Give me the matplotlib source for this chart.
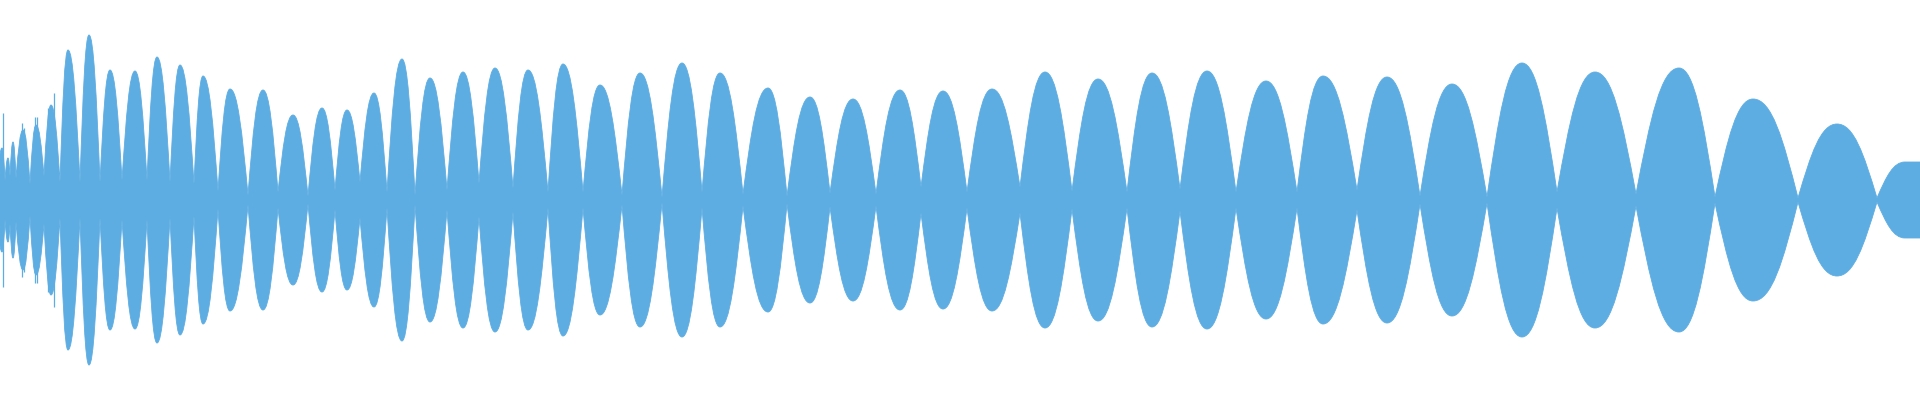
import matplotlib
matplotlib.use("Agg")
import matplotlib.pyplot as plt
from matplotlib.path import Path
from matplotlib.patches import PathPatch

# Envelope of the waveform: times of the envelope minima (nulls) and their half-amplitude
null_t = [0, 5, 10, 16, 30, 44, 60, 80, 100, 122, 147, 170, 194, 218, 248, 278, 308,
          335, 360, 387, 415, 447, 479, 513, 548, 583, 622, 662, 702, 743, 787, 830,
          876, 921, 967, 1020, 1072, 1127, 1180, 1236, 1297, 1357, 1420, 1487, 1557,
          1636, 1715, 1798, 1877, 1920]
null_amp = [0.23, 0.10, 0.12, 0.11, 0.08, 0.12, 0.09, 0.09, 0.09, 0.10, 0.10, 0.09,
            0.08, 0.045, 0.025, 0.04, 0.02, 0.05, 0.09, 0.04, 0.025, 0.05, 0.085, 0.06,
            0.04, 0.04, 0.025, 0.015, 0.04, 0.03, 0.02, 0.035, 0.03, 0.065, 0.04, 0.065,
            0.045, 0.04, 0.055, 0.04, 0.04, 0.05, 0.02, 0.015, 0.04, 0.03, 0.015, 0.01,
            0.01, 0.19]

# Envelope maxima (one per lobe between consecutive nulls)
peak_t = [2, 8, 13, 23, 36, 51, 68, 89, 110, 135, 157, 180, 203, 230, 263, 293, 322,
          347, 374, 402, 430, 463, 495, 528, 563, 600, 640, 682, 720, 768, 810, 853,
          900, 943, 992, 1045, 1098, 1152, 1207, 1266, 1323, 1387, 1452, 1522, 1595,
          1679, 1753, 1837, 1905]
peak_amp = [0.26, 0.21, 0.29, 0.35, 0.375, 0.475, 0.75, 0.825, 0.65, 0.645, 0.715,
            0.675, 0.62, 0.555, 0.55, 0.425, 0.46, 0.45, 0.535, 0.705, 0.61, 0.64,
            0.66, 0.65, 0.68, 0.575, 0.635, 0.685, 0.635, 0.56, 0.515, 0.505, 0.55,
            0.545, 0.555, 0.64, 0.605, 0.635, 0.645, 0.595, 0.62, 0.615, 0.58, 0.685,
            0.64, 0.66, 0.505, 0.38, 0.19]

# Isolated transient spikes in the noisy onset
spike_t = [3, 22, 24, 35, 37, 48, 54]
spike_amp = [0.435, 0.385, 0.36, 0.415, 0.415, 0.46, 0.535]

COLOR = "#5DADE2"

fig = plt.figure(figsize=(19.2, 4.0), dpi=100)
ax = fig.add_axes([0, 0, 1, 1])
ax.set_xlim(null_t[0], null_t[-1])
ax.set_ylim(-1, 1)
ax.axis("off")

# Upper envelope as a chain of cubic Bezier segments (rounded lobes, pointed nulls)
K_RISE = 0.60   # tangent height factor at a null
K_TOP = 0.42    # horizontal handle length at a peak
pts = [(null_t[0], null_amp[0])]
for i in range(len(peak_t)):
    x0, a0 = null_t[i], null_amp[i]
    xp, A = peak_t[i], peak_amp[i]
    x1, a1 = null_t[i + 1], null_amp[i + 1]
    d = xp - x0
    pts += [(x0 + d / 3, a0 + (A - a0) * K_RISE), (xp - d * K_TOP, A), (xp, A)]
    d = x1 - xp
    pts += [(xp + d * K_TOP, A), (x1 - d / 3, a1 + (A - a1) * K_RISE), (x1, a1)]

verts = list(pts)
codes = [Path.MOVETO] + [Path.CURVE4] * (len(pts) - 1)
mirror = [(x, -y) for (x, y) in reversed(pts)]
verts += mirror
codes += [Path.LINETO] + [Path.CURVE4] * (len(mirror) - 1)
verts.append(pts[0])
codes.append(Path.CLOSEPOLY)

ax.add_patch(PathPatch(Path(verts, codes), facecolor=COLOR, edgecolor=COLOR,
                       linewidth=0.6, antialiased=True))
ax.vlines(spike_t, [-a for a in spike_amp], spike_amp, colors=COLOR, linewidth=0.9)

fig.savefig("out.png", dpi=100, facecolor="white")
